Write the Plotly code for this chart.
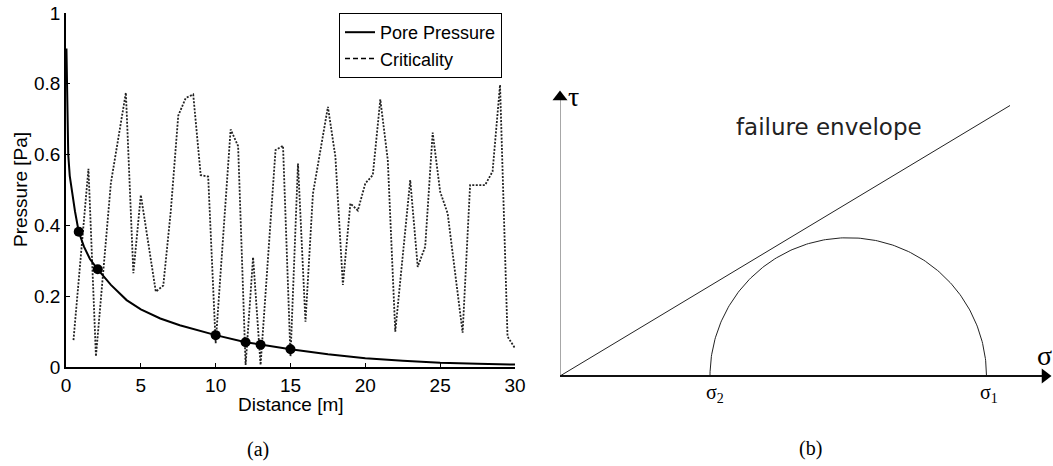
import numpy as np
import plotly.graph_objects as go

# ---------------- Panel (a) data ----------------
pressure_x = [0.03, 0.08, 0.15, 0.25, 0.38, 0.6, 0.85, 1.2, 1.6, 2.12, 3.0, 4.05, 5.0, 6.3,
              7.6, 8.6, 10, 12, 13, 15, 17.5, 20, 22.5, 25, 27.5, 30]
pressure_y = [0.9, 0.72, 0.6, 0.54, 0.5, 0.44, 0.382, 0.34, 0.305, 0.276, 0.232, 0.189, 0.163, 0.137,
              0.118, 0.106, 0.09, 0.07, 0.063, 0.05, 0.036, 0.025, 0.018, 0.012, 0.009, 0.007]

event_x = [0.85, 2.12, 10, 12, 13, 15]
event_y = [0.382, 0.276, 0.09, 0.07, 0.063, 0.05]

crit_x = [0.5, 1.5, 2.0, 3.0, 4.0, 4.5, 5.0, 6.0, 6.5, 7.0, 7.5, 8.0, 8.5, 9.0, 9.5, 10.0,
          11.0, 11.5, 12.0, 12.5, 13.0, 14.0, 14.5, 15.0, 15.5, 16.0, 16.5, 17.5, 18.0,
          18.5, 19.0, 19.5, 20.0, 20.5, 21.0, 21.5, 22.0, 23.0, 23.5, 24.0, 24.5, 25.0,
          25.5, 26.5, 27.0, 28.0, 28.5, 29.0, 29.5, 30.0]
crit_y = [0.076, 0.56, 0.03, 0.52, 0.775, 0.265, 0.486, 0.213, 0.23, 0.44, 0.71, 0.76, 0.77,
          0.542, 0.538, 0.067, 0.671, 0.624, 0.006, 0.31, 0.006, 0.613, 0.625, 0.03, 0.575,
          0.128, 0.49, 0.735, 0.594, 0.232, 0.462, 0.442, 0.519, 0.542, 0.756, 0.585, 0.1,
          0.528, 0.283, 0.34, 0.662, 0.495, 0.434, 0.097, 0.514, 0.514, 0.552, 0.797, 0.086, 0.053]

x_ticks = [0, 5, 10, 15, 20, 25, 30]
y_ticks = [0, 0.2, 0.4, 0.6, 0.8, 1]
y_ticktext = ["0", "0.2", "0.4", "0.6", "0.8", "1"]

# ---------------- Panel (b) data ----------------
sigma2 = 3.0
sigma1 = 8.53
envelope_x = [0, 9.0]
envelope_y = [0, 5.41]
tau_axis_top = 5.71
sigma_axis_end = 9.83

W, H = 1053, 466
SANS = "Liberation Sans, Arial, sans-serif"
SERIF = "Liberation Serif, Times New Roman, serif"

fig = go.Figure()

# criticality (dotted)
fig.add_trace(go.Scatter(x=crit_x, y=crit_y, mode="lines", showlegend=False,
                         line=dict(color="#222", width=1.8, dash="2px,1.5px"),
                         xaxis="x", yaxis="y"))
# pore pressure
fig.add_trace(go.Scatter(x=pressure_x, y=pressure_y, mode="lines", name="Pore Pressure",
                         line=dict(color="black", width=2), xaxis="x", yaxis="y"))
# legend-only entry for criticality (dashed sample)
fig.add_trace(go.Scatter(x=[None], y=[None], mode="lines", name="Criticality",
                         line=dict(color="black", width=1.5, dash="5px,3px"),
                         xaxis="x", yaxis="y"))
# event markers
fig.add_trace(go.Scatter(x=event_x, y=event_y, mode="markers", showlegend=False,
                         marker=dict(color="black", size=10), xaxis="x", yaxis="y"))

# ---------------- Panel (b) ----------------
theta = np.linspace(0, np.pi, 200)
c = (sigma1 + sigma2) / 2
r = (sigma1 - sigma2) / 2
fig.add_trace(go.Scatter(x=c + r * np.cos(theta), y=r * np.sin(theta), mode="lines",
                         showlegend=False, line=dict(color="#222", width=1),
                         xaxis="x2", yaxis="y2"))
fig.add_trace(go.Scatter(x=envelope_x, y=envelope_y, mode="lines", showlegend=False,
                         line=dict(color="#222", width=1), xaxis="x2", yaxis="y2"))
# axes lines
fig.add_trace(go.Scatter(x=[0, 0], y=[0, tau_axis_top - 0.1], mode="lines", showlegend=False,
                         line=dict(color="#777", width=1.3), xaxis="x2", yaxis="y2"))
fig.add_trace(go.Scatter(x=[0, sigma_axis_end - 0.1], y=[0, 0], mode="lines", showlegend=False,
                         line=dict(color="#111", width=1.8), xaxis="x2", yaxis="y2"))
# arrow heads
fig.add_trace(go.Scatter(x=[0], y=[tau_axis_top - 0.13], mode="markers", showlegend=False,
                         marker=dict(symbol="triangle-up", size=13, color="black"),
                         xaxis="x2", yaxis="y2", cliponaxis=False))
fig.add_trace(go.Scatter(x=[sigma_axis_end - 0.13], y=[0], mode="markers", showlegend=False,
                         marker=dict(symbol="triangle-right", size=13, color="black"),
                         xaxis="x2", yaxis="y2", cliponaxis=False))

axis_font = dict(family=SANS, size=19, color="black")

annotations = [
    # axis titles of panel (a)
    dict(x=(66 + 515) / 2 / W, y=1 - 404 / H, xref="paper", yref="paper", text="Distance [m]",
         showarrow=False, font=axis_font, xanchor="center", yanchor="middle"),
    dict(x=20 / W, y=1 - 190 / H, xref="paper", yref="paper", text="Pressure [Pa]",
         showarrow=False, font=axis_font, textangle=-90, xanchor="center", yanchor="middle"),
    # panel (b) labels
    dict(x=0.27, y=5.6, xref="x2", yref="y2", text="τ", showarrow=False,
         font=dict(family=SERIF, size=28, color="black"), xanchor="center", yanchor="middle"),
    dict(x=9.68, y=0.42, xref="x2", yref="y2", text="σ", showarrow=False,
         font=dict(family=SERIF, size=28, color="black"), xanchor="center", yanchor="middle"),
    dict(x=sigma2 + 0.1, y=-0.34, xref="x2", yref="y2", text="σ<sub>2</sub>", showarrow=False,
         font=dict(family=SERIF, size=20, color="black"), xanchor="center", yanchor="middle"),
    dict(x=sigma1 + 0.05, y=-0.34, xref="x2", yref="y2", text="σ<sub>1</sub>", showarrow=False,
         font=dict(family=SERIF, size=20, color="black"), xanchor="center", yanchor="middle"),
    dict(x=5.37, y=4.99, xref="x2", yref="y2", text="failure envelope", showarrow=False,
         font=dict(family="DejaVu Sans, Verdana, sans-serif", size=23, color="#222"),
         xanchor="center", yanchor="middle"),
    # captions
    dict(x=258 / W, y=1 - 449 / H, xref="paper", yref="paper", text="(a)", showarrow=False,
         font=dict(family=SERIF, size=20, color="black"), xanchor="center", yanchor="middle"),
    dict(x=810 / W, y=1 - 448 / H, xref="paper", yref="paper", text="(b)", showarrow=False,
         font=dict(family=SERIF, size=20, color="black"), xanchor="center", yanchor="middle"),
]

fig.update_layout(
    width=W, height=H,
    margin=dict(l=0, r=0, t=0, b=0),
    paper_bgcolor="white", plot_bgcolor="white",
    font=dict(family=SANS, color="black"),
    xaxis=dict(domain=[66 / W, 515 / W], range=[0, 30], anchor="y",
               showline=True, linecolor="black", linewidth=1.5,
               ticks="inside", ticklen=4, tickwidth=1, tickcolor="black",
               tickvals=x_ticks, tickfont=axis_font, showgrid=False, zeroline=False,
               automargin=False),
    yaxis=dict(domain=[(H - 367) / H, (H - 13) / H], range=[0, 1], anchor="x",
               showline=True, linecolor="black", linewidth=1.5,
               ticks="inside", ticklen=4, tickwidth=1, tickcolor="black",
               tickvals=y_ticks, ticktext=y_ticktext, tickfont=axis_font,
               showgrid=False, zeroline=False, automargin=False),
    xaxis2=dict(domain=[560 / W, 1.0], range=[0, 9.86], anchor="y2", visible=False),
    yaxis2=dict(domain=[0, 1], range=[-1.8, 7.52], anchor="x2", visible=False),
    legend=dict(x=339 / W, y=1 - 13 / H, xanchor="left", yanchor="top",
                bordercolor="black", borderwidth=1, bgcolor="white",
                font=dict(family=SANS, size=18, color="black"), tracegroupgap=0),
    annotations=annotations,
    showlegend=True,
)

fig.write_html("out.html", config={"displayModeBar": False},
               post_script="document.body.style.margin='0';document.body.style.overflow='hidden';")
